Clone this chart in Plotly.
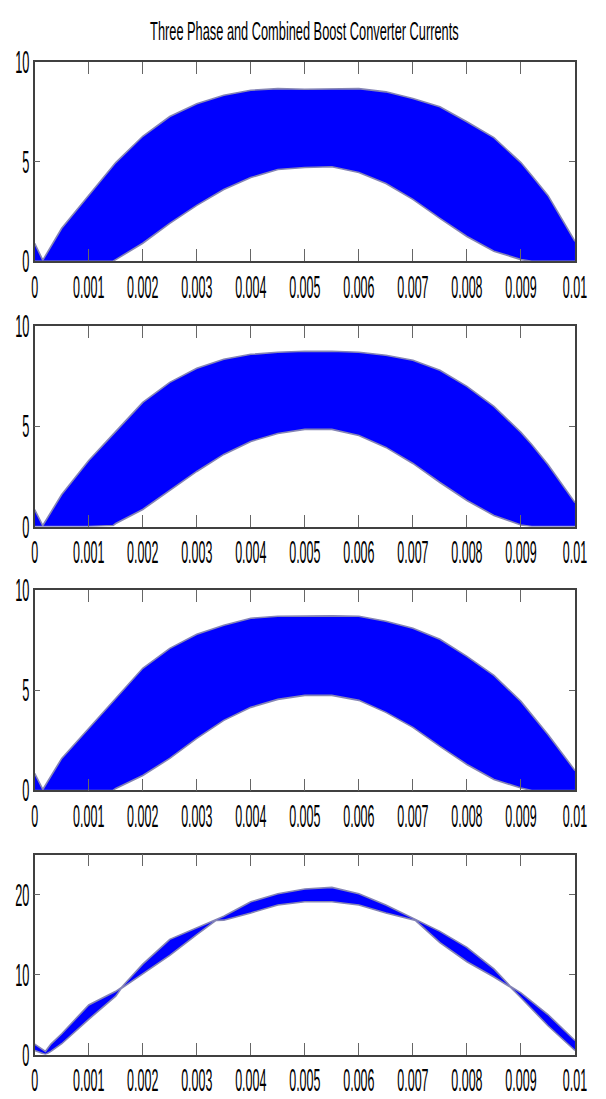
import plotly.graph_objects as go

# ---- data (envelopes of the switching-ripple currents) ----
x_phase = [0, 0.00015, 0.0005, 0.001, 0.00145, 0.0015, 0.002, 0.0025, 0.003, 0.0035, 0.004,
           0.0045, 0.005, 0.0055, 0.006, 0.0065, 0.007, 0.0075, 0.008, 0.0085, 0.009,
           0.0092, 0.0095, 0.01]

ph1_upper = [0.9, 0.05, 1.65, 3.3, 4.8, 4.95, 6.27, 7.26, 7.9, 8.33, 8.58,
             8.66, 8.63, 8.63, 8.66, 8.5, 8.17, 7.75, 7.0, 6.2, 4.95, 4.3, 3.3, 1.0]
ph1_lower = [0.0, 0.0, 0.0, 0.0, 0.0, 0.08, 0.9, 1.9, 2.8, 3.6, 4.2,
             4.6, 4.7, 4.74, 4.45, 3.9, 3.1, 2.15, 1.24, 0.5, 0.08, 0.0, 0.0, 0.0]

ph2_upper = [0.85, 0.05, 1.6, 3.3, 4.6, 4.75, 6.2, 7.2, 7.9, 8.35, 8.6,
             8.7, 8.75, 8.75, 8.7, 8.55, 8.3, 7.8, 7.0, 6.0, 4.7, 4.1, 3.1, 1.2]
ph2_lower = [0.0, 0.0, 0.0, 0.0, 0.05, 0.15, 0.85, 1.8, 2.75, 3.6, 4.25,
             4.65, 4.85, 4.85, 4.55, 3.95, 3.15, 2.2, 1.3, 0.55, 0.08, 0.0, 0.0, 0.0]

ph3_upper = [0.85, 0.05, 1.6, 3.1, 4.5, 4.65, 6.1, 7.1, 7.8, 8.25, 8.6,
             8.7, 8.72, 8.72, 8.7, 8.45, 8.1, 7.55, 6.7, 5.75, 4.45, 3.8, 2.8, 1.0]
ph3_lower = [0.0, 0.0, 0.0, 0.0, 0.0, 0.1, 0.75, 1.6, 2.6, 3.5, 4.15,
             4.55, 4.75, 4.75, 4.5, 3.9, 3.15, 2.2, 1.3, 0.55, 0.12, 0.0, 0.0, 0.0]

x_total = [0, 0.0001, 0.0002, 0.0003, 0.0005, 0.001, 0.0015, 0.0016, 0.002, 0.0025,
           0.003, 0.00335, 0.0035, 0.004, 0.0045, 0.005, 0.0055, 0.006, 0.0065, 0.00705,
           0.0075, 0.008, 0.0085, 0.0088, 0.009, 0.0095, 0.01]
tot_upper = [1.3, 0.9, 0.4, 1.3, 2.6, 6.2, 7.9, 8.35, 11.3, 14.4,
             15.8, 16.85, 17.3, 19.1, 20.1, 20.7, 20.9, 20.1, 18.7, 16.85,
             15.4, 13.4, 10.7, 8.55, 7.7, 5.0, 1.75]
tot_lower = [0.5, 0.2, 0.0, 0.4, 1.35, 4.4, 7.3, 8.25, 10.1, 12.4,
             15.0, 16.75, 16.8, 17.7, 18.7, 19.1, 19.1, 18.7, 17.7, 16.75,
             14.0, 11.6, 9.7, 8.45, 7.1, 3.6, 0.5]

x_ticks = [0, 0.001, 0.002, 0.003, 0.004, 0.005, 0.006, 0.007, 0.008, 0.009, 0.01]
x_ticklabels = ["0", "0.001", "0.002", "0.003", "0.004", "0.005", "0.006",
                "0.007", "0.008", "0.009", "0.01"]
y_ticks_phase = [0, 5, 10]
y_ticks_total = [0, 10, 20]

title_text = "Three Phase and Combined Boost Converter Currents"

# ---- figure ----
W, H = 606, 1099
FONT = "Liberation Sans, Arial, sans-serif"
BLUE = "#0000ff"
EDGE = "#8585b5"

panels = [
    (x_phase, ph1_upper, ph1_lower, [0, 10], y_ticks_phase, 54.7, 256.7),
    (x_phase, ph2_upper, ph2_lower, [0, 10], y_ticks_phase, 322.7, 525.7),
    (x_phase, ph3_upper, ph3_lower, [0, 10], y_ticks_phase, 590.3, 793.3),
    (x_total, tot_upper, tot_lower, [0, 25], y_ticks_total, 858.3, 1061),
]

PX_LEFT, PX_RIGHT = 32.5, 586.5

fig = go.Figure()
layout = dict(
    width=W, height=H,
    margin=dict(l=0, r=0, t=0, b=0),
    paper_bgcolor="white", plot_bgcolor="white",
    showlegend=False,
    font=dict(family=FONT, color="black", size=12.5),
)

for i, (xs, up, lo, yr, yt, top_px, bot_px) in enumerate(panels, start=1):
    xa = "x" if i == 1 else f"x{i}"
    ya = "y" if i == 1 else f"y{i}"
    fig.add_trace(go.Scatter(x=xs, y=lo, xaxis=xa, yaxis=ya, mode="lines",
                             line=dict(color=EDGE, width=1.6), hoverinfo="skip"))
    fig.add_trace(go.Scatter(x=xs, y=up, xaxis=xa, yaxis=ya, mode="lines",
                             fill="tonexty", fillcolor=BLUE,
                             line=dict(color=EDGE, width=1.6), hoverinfo="skip"))
    dom_x = [PX_LEFT / W, PX_RIGHT / W]
    dom_y = [1 - bot_px / H, 1 - top_px / H]
    xkey = "xaxis" if i == 1 else f"xaxis{i}"
    ykey = "yaxis" if i == 1 else f"yaxis{i}"
    layout[xkey] = dict(
        domain=dom_x, anchor=ya, range=[0, 0.01],
        tickmode="array", tickvals=x_ticks, ticktext=x_ticklabels,
        ticks="inside", ticklen=12, tickcolor="#666666", tickwidth=1,
        showline=True, linecolor="#404040", linewidth=1.5, mirror="ticks",
        showgrid=False, zeroline=False, ticklabeloverflow="allow",
        ticklabelstandoff=14,
        tickfont=dict(family=FONT, size=12.5, color="black"),
    )
    layout[ykey] = dict(
        domain=dom_y, anchor=xa, range=yr,
        tickmode="array", tickvals=yt, ticktext=[str(v) for v in yt],
        ticks="inside", ticklen=6, tickcolor="#666666", tickwidth=1,
        showline=True, linecolor="#404040", linewidth=1.5, mirror="ticks",
        showgrid=False, zeroline=False, ticklabelstandoff=1,
        tickfont=dict(family=FONT, size=12.8, color="black"),
    )

layout["annotations"] = [dict(
    text=title_text, x=309.5 / W, y=1 - 24 / H, xref="paper", yref="paper",
    xanchor="center", yanchor="middle", showarrow=False,
    font=dict(family=FONT, size=12.8, color="black"),
)]

fig.update_layout(**layout)

# The reference uses tall, condensed lettering: stretch the (real) text vertically.
post = """
var gd = document.getElementById('{plot_id}');
function stretchText(){
  var els = gd.querySelectorAll('g.xaxislayer-above text, g.yaxislayer-above text, text.annotation-text');
  els.forEach(function(t){
    var tr = t.getAttribute('transform') || '';
    if (tr.indexOf('scale(') >= 0) return;
    var s = t.classList.contains('annotation-text') ? 2.0 : 2.45;
    var b = t.getBBox();
    var cx = b.x + b.width / 2, cy = b.y + b.height / 2;
    t.setAttribute('transform', tr + ' translate(' + cx + ',' + cy + ') scale(1,' + s +
                   ') translate(' + (-cx) + ',' + (-cy) + ')');
  });
}
stretchText();
gd.on('plotly_afterplot', function(){ stretchText(); });
"""

fig.write_html("out.html", post_script=post)
